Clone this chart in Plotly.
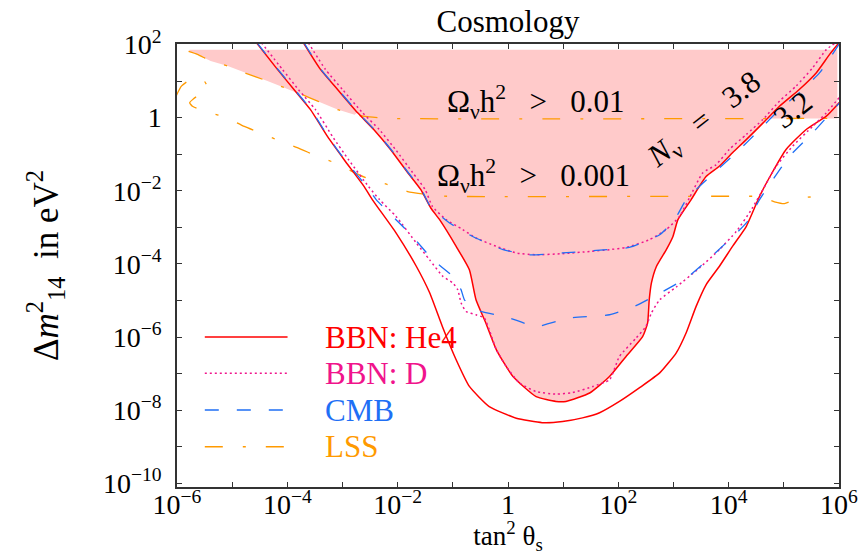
import numpy as np
import plotly.graph_objects as go

# ---- data (log10 of tan^2(theta_s) and of Delta m^2 / eV^2) ----
HE4_OUT_LX = [-4.56, -4.18, -3.88, -3.58, -3.27, -2.97, -2.61, -2.46, -2.03, -1.66, -1.42, -1.19, -0.94, -0.70,
              -0.34, 0.15, 0.62, 0.99, 1.35, 1.66, 2.02, 2.38, 2.75, 3.05, 3.23, 3.41, 3.59, 3.83, 4.07, 4.32,
              4.56, 4.79, 5.04, 5.40, 5.77, 6.02]
HE4_OUT_LY = [2.05, 1.32, 0.77, 0.22, -0.52, -1.15, -1.88, -2.24, -3.15, -4.07, -4.79, -5.71, -6.62, -7.35,
              -7.90, -8.22, -8.34, -8.31, -8.21, -8.07, -7.76, -7.39, -6.98, -6.43, -5.88, -5.16, -4.57, -4.07, -3.52, -2.97,
              -2.15, -1.50, -0.87, -0.33, 0.04, 0.44]

HE4_IN_LX = [-3.71, -3.40, -3.09, -2.73, -2.43, -2.13, -1.82, -1.58, -1.40, -1.24, -0.94, -0.70, -0.58, -0.40,
             -0.21, 0.09, 0.51, 0.87, 1.05, 1.48, 1.84, 2.14, 2.44, 2.53, 2.56, 2.60, 2.69, 2.87, 2.99, 3.08,
             3.32, 3.59, 3.83, 4.07, 4.32, 4.62, 4.92, 5.28, 5.59, 5.83, 6.0]
HE4_IN_LY = [2.05, 1.32, 0.77, 0.14, -0.33, -0.87, -1.50, -1.97, -2.47, -2.79, -3.52, -4.16, -4.98, -5.62,
             -6.35, -7.08, -7.63, -7.76, -7.76, -7.53, -7.08, -6.53, -5.99, -5.62, -4.98, -4.52, -4.07, -3.61, -3.25, -2.79,
             -2.24, -1.61, -1.33, -0.96, -0.60, -0.15, 0.31, 0.77, 1.23, 1.73, 2.05]

D_OUT_LX = [-4.47, -4.09, -3.80, -3.49, -3.18, -2.89, -2.53, -2.33, -2.03, -1.66, -1.42, -1.18, -1.00, -0.91,
            -0.85, -0.76, -0.58, -0.43, -0.34, -0.21, -0.03, 0.21, 0.51, 0.87, 1.17, 1.54, 1.84, 2.02, 2.32,
            2.50, 2.60, 2.75, 3.05, 3.47, 3.83, 4.14, 4.41, 4.62, 4.86, 5.16, 5.52, 5.77, 6.02]
D_OUT_LY = [2.05, 1.32, 0.77, 0.22, -0.52, -1.15, -1.88, -2.24, -2.70, -3.43, -3.89, -4.34, -4.52, -4.71,
            -5.07, -5.30, -5.39, -5.48, -5.80, -6.35, -6.81, -7.26, -7.49, -7.56, -7.52, -7.35, -7.17, -6.53, -6.03,
            -5.71, -5.34, -4.98, -4.63, -4.11, -3.61, -3.11, -2.52, -1.97, -1.33, -0.78, -0.24, 0.13, 0.58]

D_IN_LX = [-3.62, -3.31, -3.00, -2.64, -2.33, -2.04, -1.73, -1.50, -1.37, -1.12, -0.82, -0.58, -0.21, 0.15,
           0.51, 0.99, 1.48, 1.84, 2.14, 2.56, 2.87, 3.11, 3.29, 3.53, 3.77, 4.01, 4.32, 4.62, 4.92, 5.22,
           5.52, 5.77, 5.94]
D_IN_LY = [2.05, 1.32, 0.77, 0.14, -0.33, -0.87, -1.50, -1.97, -2.43, -2.79, -3.06, -3.29, -3.52, -3.70,
           -3.75, -3.72, -3.66, -3.61, -3.55, -3.34, -3.06, -2.70, -2.19, -1.51, -1.29, -0.87, -0.46, -0.05, 0.45, 0.86,
           1.36, 1.86, 2.05]

CMB_IN_LX = [-3.70, -3.39, -3.08, -2.72, -2.42, -2.12, -1.81, -1.57, -1.39, -1.06, -0.64, -0.09, 0.39, 0.99,
             1.60, 2.20, 2.75, 3.02, 3.23, 3.47, 3.83, 4.20, 4.56, 4.92, 5.28, 5.65, 6.02]
CMB_IN_LY = [2.05, 1.32, 0.77, 0.14, -0.33, -0.87, -1.50, -1.97, -2.47, -2.88, -3.25, -3.61, -3.75, -3.70,
             -3.63, -3.55, -3.20, -2.79, -2.24, -1.88, -1.38, -0.87, -0.33, 0.22, 0.68, 1.23, 2.05]

CMB_OUT_LX = [-4.55, -4.17, -3.87, -3.57, -3.26, -2.96, -2.58, -2.39, -2.03, -1.73, -1.36, -1.00, -0.85, -0.79,
              -0.58, 0.03, 0.51, 1.11, 1.84, 2.32, 2.75, 3.23, 3.59, 3.95, 4.32, 4.56, 4.80, 5.10, 5.52, 6.02]
CMB_OUT_LY = [2.05, 1.32, 0.77, 0.22, -0.52, -1.15, -1.85, -2.24, -2.79, -3.25, -3.89, -4.34, -4.71, -4.98,
              -5.25, -5.48, -5.71, -5.48, -5.39, -5.14, -4.80, -4.39, -3.93, -3.43, -2.88, -2.24, -1.70, -1.06, -0.42, 0.42]

LSS_UP_LX = [-5.79, -5.63, -5.39, -5.08, -4.78, -4.36, -4.12, -3.78, -3.45, -3.09, -2.78, -2.51, -2.15, 6.02]
LSS_UP_LY = [1.81, 1.73, 1.55, 1.41, 1.23, 1.00, 0.86, 0.66, 0.45, 0.22, 0.08, 0.02, -0.02, -0.02]

LSS_LO_LX = [-6.02, -5.92, -5.77, -5.59, -5.52, -5.44, -5.48, -5.66, -5.77, -5.72, -5.41, -5.10, -4.78, -4.42,
             -4.12, -3.82, -3.45, -3.15, -2.84, -2.49, -2.18, -1.82, -1.41, -1.10, 4.07, 4.56, 4.83, 5.01, 5.28, 5.70]
LSS_LO_LY = [0.58, 0.86, 1.03, 1.06, 1.03, 0.82, 0.67, 0.56, 0.41, 0.31, 0.14, 0.00, -0.24, -0.46,
             -0.65, -0.82, -1.06, -1.23, -1.46, -1.70, -1.83, -2.02, -2.11, -2.15, -2.15, -2.16, -2.30, -2.35, -2.20, -2.15]

# shaded (excluded) region limits
FILL_LEFT, FILL_RIGHT, FILL_TOP, FILL_BOTTOM = -5.77, 5.97, 1.86, -0.02

X_TICK_EXP = list(range(-6, 7))
X_TICK_TEXT = ["10<sup>−6</sup>", "", "10<sup>−4</sup>", "", "10<sup>−2</sup>", "", "1", "",
               "10<sup>2</sup>", "", "10<sup>4</sup>", "", "10<sup>6</sup>"]
Y_TICK_EXP = list(range(-10, 3))
Y_TICK_TEXT = ["10<sup>−10</sup>", "", "10<sup>−8</sup>", "", "10<sup>−6</sup>", "", "10<sup>−4</sup>", "",
               "10<sup>−2</sup>", "", "1", "", "10<sup>2</sup>"]

LEGEND = [("BBN: He4", "#FF0000", "solid"),
          ("BBN: D", "#F0148C", "2px,3px"),
          ("CMB", "#1F6FF5", "14px,18px"),
          ("LSS", "#FF9A00", "18px,20px,3px,20px")]

FONT = "Liberation Serif"
NB = "\u00a0"


def lin(a):
    return np.power(10.0, np.asarray(a, dtype=float))


fig = go.Figure()

# ---- shaded region: above the Omega h^2 > 0.01 line, or inside the inner He4 contour ----
in_x = np.asarray(HE4_IN_LX)
in_y = np.asarray(HE4_IN_LY)
k = int(np.argmin(in_y))
x_cross = float(np.interp(FILL_BOTTOM, in_y[k:], in_x[k:]))
below = np.where(in_y < FILL_BOTTOM)[0]
first_below = below[0]
up_x = np.asarray(LSS_UP_LX)
up_y = np.asarray(LSS_UP_LY)
left_part = np.where(up_x < in_x[first_below - 1])[0]

poly_lx = [FILL_LEFT, FILL_RIGHT, FILL_RIGHT, x_cross]
poly_ly = [FILL_TOP, FILL_TOP, FILL_BOTTOM, FILL_BOTTOM]
poly_lx += list(in_x[below][::-1]) + [in_x[first_below - 1]] + list(up_x[left_part][::-1]) + [FILL_LEFT]
poly_ly += list(in_y[below][::-1]) + [in_y[first_below - 1]] + list(up_y[left_part][::-1]) + [FILL_TOP]

fig.add_trace(go.Scatter(x=lin(poly_lx), y=lin(poly_ly), mode="lines", fill="toself",
                         fillcolor="#FFCACA", line=dict(width=0), hoverinfo="skip", showlegend=False))


# ---- curves ----
def add_curve(lx, ly, color, dash, width=1.3):
    fig.add_trace(go.Scatter(x=lin(lx), y=lin(ly), mode="lines",
                             line=dict(color=color, dash=dash, width=width, shape="spline", smoothing=0.5),
                             showlegend=False))


add_curve(LSS_UP_LX, LSS_UP_LY, LEGEND[3][1], LEGEND[3][2])
add_curve(LSS_LO_LX, LSS_LO_LY, LEGEND[3][1], LEGEND[3][2])
add_curve(HE4_OUT_LX, HE4_OUT_LY, LEGEND[0][1], LEGEND[0][2], 1.5)
add_curve(HE4_IN_LX, HE4_IN_LY, LEGEND[0][1], LEGEND[0][2], 1.5)
add_curve(D_OUT_LX, D_OUT_LY, LEGEND[1][1], LEGEND[1][2], 1.5)
add_curve(D_IN_LX, D_IN_LY, LEGEND[1][1], LEGEND[1][2], 1.5)
add_curve(CMB_OUT_LX, CMB_OUT_LY, LEGEND[2][1], LEGEND[2][2])
add_curve(CMB_IN_LX, CMB_IN_LY, LEGEND[2][1], LEGEND[2][2])

# ---- legend drawn inside the plot ----
leg_y = [0.3386, 0.2567, 0.1738, 0.0910]
shapes = []
annotations = []
for (name, color, dash), yy in zip(LEGEND, leg_y):
    shapes.append(dict(type="line", xref="paper", yref="paper", x0=0.042, x1=0.167, y0=yy, y1=yy,
                       line=dict(color=color, dash=dash, width=1.5)))
    annotations.append(dict(text=name, xref="paper", yref="paper", x=0.2205, y=yy, xanchor="left",
                            yanchor="middle", showarrow=False, font=dict(family=FONT, size=31, color=color)))

# ---- labels in the plot ----
txt_font = dict(family=FONT, size=31, color="black")
annotations += [
    dict(text="Ω<sub>ν</sub>h<sup>2</sup>" + NB * 3 + ">" + NB * 3 + "0.01", xref="paper", yref="paper",
         x=0.5415, y=0.870, xanchor="center", yanchor="middle", showarrow=False, font=txt_font),
    dict(text="Ω<sub>ν</sub>h<sup>2</sup>" + NB * 3 + ">" + NB * 3 + "0.001", xref="paper", yref="paper",
         x=0.5378, y=0.702, xanchor="center", yanchor="middle", showarrow=False, font=txt_font),
    dict(text="<i>N</i><sub>ν</sub>" + NB * 3 + "=" + NB * 3 + "3.8", xref="paper", yref="paper",
         x=0.797, y=0.826, xanchor="center", yanchor="middle",
         textangle=-38, showarrow=False, font=txt_font),
    dict(text="3.2", xref="paper", yref="paper", x=0.930, y=0.853, xanchor="center", yanchor="middle",
         textangle=-38, showarrow=False, font=txt_font),
]

axis_common = dict(type="log", ticks="inside", ticklen=5, tickwidth=1, tickcolor="#333",
                   showline=True, linecolor="#333", linewidth=1.5, mirror="ticks",
                   showgrid=False, zeroline=False, automargin=False,
                   tickfont=dict(family=FONT, size=28, color="black"))

fig.update_layout(
    width=866, height=555,
    margin=dict(l=177, r=27, t=44, b=68, autoexpand=False),
    paper_bgcolor="white", plot_bgcolor="white",
    title=dict(text="Cosmology", x=0.5, xref="paper", xanchor="center", y=0.962, yanchor="middle",
               font=dict(family=FONT, size=31, color="black")),
    xaxis=dict(range=[-6, 6], tickvals=[10.0 ** e for e in X_TICK_EXP], ticktext=X_TICK_TEXT,
               ticklabelstandoff=-8,
               title=dict(text="tan<sup>2</sup> θ<sub>s</sub>", standoff=6,
                          font=dict(family=FONT, size=27, color="black")),
               **axis_common),
    yaxis=dict(range=[-10.1, 2.014], tickvals=[10.0 ** e for e in Y_TICK_EXP], ticktext=Y_TICK_TEXT,
               ticklabelstandoff=8,
               title=dict(text="Δ<i>m</i><sup>2</sup><sub>14</sub>" + NB * 2 + "in" + NB + "eV<sup>2</sup>" + NB * 5,
                          standoff=34, font=dict(family=FONT, size=35, color="black")),
               **axis_common),
    shapes=shapes,
    annotations=annotations,
    showlegend=False,
)

fig.write_html("out.html")
